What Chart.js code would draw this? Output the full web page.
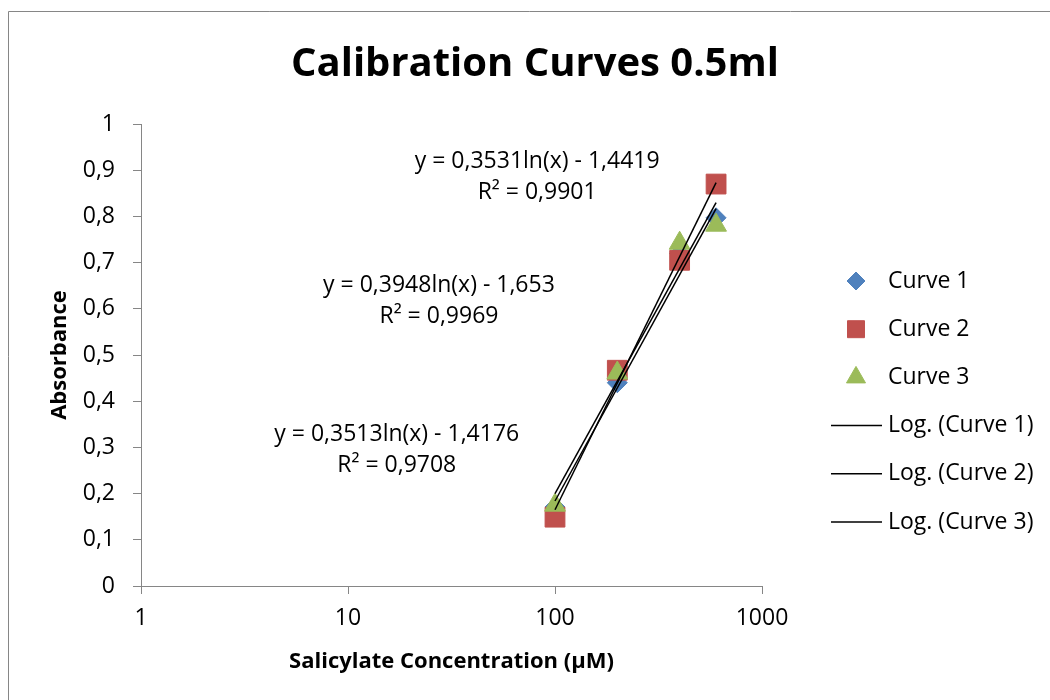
<!DOCTYPE html>
<html>
<head>
<meta charset="utf-8">
<title>Calibration Curves 0.5ml</title>
<script src="https://cdn.jsdelivr.net/npm/chart.js@4"></script>
<style>
    body { margin: 0; background: #fff; }
    #wrap { position: relative; width: 1050px; height: 700px; }
</style>
</head>
<body>
<div id="wrap"><canvas id="chart" width="1050" height="700"></canvas></div>
<script>
// data
const concentrations = [100, 200, 400, 600];
const curve1 = [0.171, 0.440, 0.720, 0.797];
const curve2 = [0.149, 0.467, 0.705, 0.870];
const curve3 = [0.175, 0.461, 0.742, 0.781];

// trendline ends (log fits, straight on the log axis)
const trendX = [100, 600];
const trend1 = [0.184, 0.817];
const trend2 = [0.165, 0.873];
const trend3 = [0.200, 0.830];

const xTicks = [1, 10, 100, 1000];
const yTicks = [0, 0.1, 0.2, 0.3, 0.4, 0.5, 0.6, 0.7, 0.8, 0.9, 1];

const seriesNames = ['Curve 1', 'Curve 2', 'Curve 3'];
const trendNames = ['Log. (Curve 1)', 'Log. (Curve 2)', 'Log. (Curve 3)'];
const equations = [
    ['y = 0,3531ln(x) - 1,4419', 'R² = 0,9901'],
    ['y = 0,3948ln(x) - 1,653', 'R² = 0,9969'],
    ['y = 0,3513ln(x) - 1,4176', 'R² = 0,9708']
];

const FONT = '"Open Sans", sans-serif';
const TEXT_SIZE = 23;
const AXIS_GREY = '#868686';

function pts(xs, ys) {
    return xs.map((x, i) => ({ x: x, y: ys[i] }));
}

// where the equation labels sit, in data units
const eqAnchors = [
    { x: 82, y: 0.918 },
    { x: 27.5, y: 0.651 },
    { x: 17.2, y: 0.329 }
];

const decor = {
    id: 'decor',
    beforeDraw(chart) {
        const ctx = chart.ctx;
        ctx.save();
        ctx.strokeStyle = AXIS_GREY;
        ctx.lineWidth = 1;
        ctx.beginPath();
        ctx.moveTo(8.5, 701);
        ctx.lineTo(8.5, 11.5);
        ctx.lineTo(1051, 11.5);
        ctx.stroke();
        ctx.restore();
    },
    afterDraw(chart) {
        const ctx = chart.ctx;
        const xs = chart.scales.x, ys = chart.scales.y;
        const area = chart.chartArea;
        ctx.save();

        // title
        ctx.fillStyle = '#000';
        ctx.font = 'bold 40px ' + FONT;
        ctx.textAlign = 'center';
        ctx.textBaseline = 'middle';
        ctx.fillText('Calibration Curves 0.5ml', 535, 65);

        // equations
        ctx.font = TEXT_SIZE + 'px ' + FONT;
        equations.forEach((lines, i) => {
            const px = xs.getPixelForValue(eqAnchors[i].x);
            const py = ys.getPixelForValue(eqAnchors[i].y);
            ctx.fillText(lines[0], px, py);
            ctx.fillText(lines[1], px, py + 31);
        });

        // legend
        const mx = area.right + 94;
        const tx = area.right + 126;
        let y = 281;
        ctx.textAlign = 'left';
        chart.data.datasets.forEach((ds) => {
            if (ds.showLine) {
                ctx.strokeStyle = '#000';
                ctx.lineWidth = 1.5;
                ctx.beginPath();
                ctx.moveTo(area.right + 69, y);
                ctx.lineTo(area.right + 120, y);
                ctx.stroke();
            } else {
                ctx.fillStyle = ds.backgroundColor;
                ctx.strokeStyle = ds.borderColor;
                ctx.lineWidth = 1;
                Chart.helpers.drawPoint(ctx, {
                    pointStyle: ds.pointStyle,
                    radius: ds.legendRadius,
                    borderWidth: 1,
                    rotation: 0
                }, mx, y);
            }
            ctx.fillStyle = '#000';
            ctx.fillText(ds.label, tx, y);
            y += 48.2;
        });
        ctx.restore();
    }
};

const markerSet = [
    { label: seriesNames[0], data: pts(concentrations, curve1), pointStyle: 'rectRot', color: '#4F81BD', r: 10, lr: 9, order: 3 },
    { label: seriesNames[1], data: pts(concentrations, curve2), pointStyle: 'rect', color: '#C0504D', r: 14, lr: 12, order: 2 },
    { label: seriesNames[2], data: pts(concentrations, curve3), pointStyle: 'triangle', color: '#9BBB59', r: 12, lr: 11, order: 1 }
];

const datasets = markerSet.map(m => ({
    label: m.label,
    data: m.data,
    order: m.order,
    pointStyle: m.pointStyle,
    pointRadius: m.r,
    pointHoverRadius: m.r,
    legendRadius: m.lr,
    backgroundColor: m.color,
    borderColor: m.color,
    borderWidth: 1,
    showLine: false
}));

[trend1, trend2, trend3].forEach((t, i) => {
    datasets.push({
        label: trendNames[i],
        data: pts(trendX, t),
        order: 0,
        showLine: true,
        borderColor: '#000',
        backgroundColor: '#000',
        borderWidth: 1.5,
        pointRadius: 0
    });
});

new Chart(document.getElementById('chart'), {
    type: 'scatter',
    data: { datasets: datasets },
    options: {
        responsive: false,
        animation: false,
        layout: { padding: { top: 124, left: 30, right: 288, bottom: 10 } },
        plugins: {
            legend: { display: false },
            title: { display: false },
            tooltip: { enabled: false }
        },
        scales: {
            x: {
                type: 'logarithmic',
                min: 1,
                max: 1000,
                afterBuildTicks: (scale) => { scale.ticks = xTicks.map(v => ({ value: v })); },
                afterFit: (scale) => { scale.height = 104; },
                grid: { drawOnChartArea: false, color: AXIS_GREY, tickLength: 8 },
                border: { color: AXIS_GREY },
                ticks: {
                    color: '#000',
                    font: { family: FONT, size: TEXT_SIZE },
                    padding: 11,
                    maxRotation: 0,
                    callback: (v) => String(v)
                },
                title: {
                    display: true,
                    text: 'Salicylate Concentration (µM)',
                    color: '#000',
                    font: { family: FONT, size: 22, weight: 'bold' },
                    padding: { top: 0, bottom: 15 }
                }
            },
            y: {
                min: 0,
                max: 1,
                afterBuildTicks: (scale) => { scale.ticks = yTicks.map(v => ({ value: v })); },
                afterFit: (scale) => { scale.width = 111; },
                grid: { drawOnChartArea: false, color: AXIS_GREY, tickLength: 8 },
                border: { color: AXIS_GREY },
                ticks: {
                    color: '#000',
                    font: { family: FONT, size: TEXT_SIZE },
                    padding: 18,
                    callback: (v) => String(Number(v.toFixed(1))).replace('.', ',')
                },
                title: {
                    display: true,
                    text: 'Absorbance',
                    color: '#000',
                    font: { family: FONT, size: 22, weight: 'bold' },
                    padding: { top: 17, bottom: 0 }
                }
            }
        }
    },
    plugins: [decor]
});
</script>
</body>
</html>
